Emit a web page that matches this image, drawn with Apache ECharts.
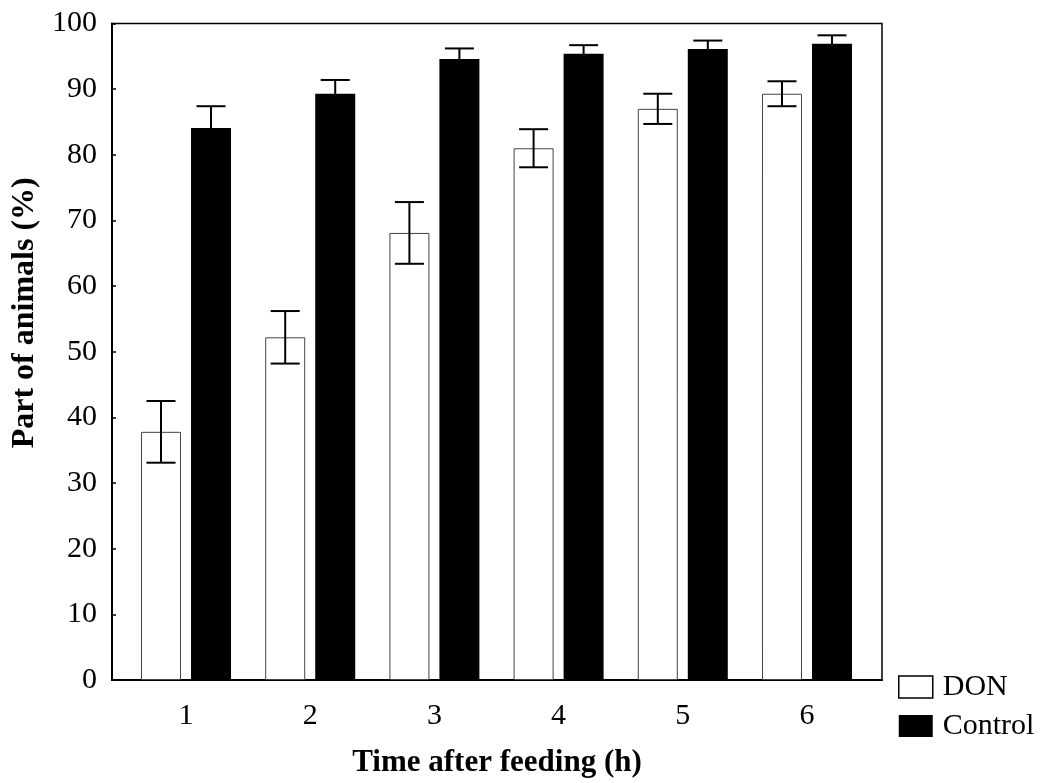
<!DOCTYPE html>
<html>
<head>
    <meta charset="UTF-8">
    <title>Part of animals</title>
    <script src="https://cdn.jsdelivr.net/npm/echarts@6/dist/echarts.min.js"></script>
</head>
<body style="margin:0;background:#fff">
<div id="main" style="width:1042px;height:783px;"></div>
<script>
    // hours after feeding
    var hours = [1, 2, 3, 4, 5, 6];
    // DON group: mean and error (+/-)
    var donMean = [37.8, 52.2, 68.1, 81.0, 87.0, 89.3];
    var donErr = [4.7, 4.0, 4.7, 2.9, 2.3, 1.9];
    // control group
    var ctrlMean = [84.1, 89.3, 94.6, 95.4, 96.1, 96.9];
    var ctrlErr = [3.3, 2.1, 1.6, 1.3, 1.3, 1.3];
    var yTicks = [0, 10, 20, 30, 40, 50, 60, 70, 80, 90, 100];

    var font = '"Liberation Serif", "Times New Roman", serif';

    function pairs(vals) {
        return hours.map(function (h, i) { return [h, vals[i]]; });
    }
    function errData(vals, errs) {
        return hours.map(function (h, i) { return [h, vals[i] - errs[i], vals[i] + errs[i]]; });
    }
    // error bar drawn with a pixel shift so it sits on its own bar
    function errRender(shift) {
        return function (params, api) {
            var lo = api.coord([api.value(0), api.value(1)]);
            var hi = api.coord([api.value(0), api.value(2)]);
            var x = lo[0] + shift, cap = 14.5;
            var st = { stroke: '#000', lineWidth: 2 };
            return {
                type: 'group',
                children: [
                    { type: 'line', shape: { x1: x, y1: lo[1], x2: x, y2: hi[1] }, style: st },
                    { type: 'line', shape: { x1: x - cap, y1: hi[1], x2: x + cap, y2: hi[1] }, style: st },
                    { type: 'line', shape: { x1: x - cap, y1: lo[1], x2: x + cap, y2: lo[1] }, style: st }
                ]
            };
        };
    }

    var myChart = echarts.init(document.getElementById('main'));
    var option = {
        backgroundColor: '#fff',
        animation: false,
        textStyle: { fontFamily: font },
        grid: {
            left: 112, right: 160, top: 23.5, bottom: 102,
            show: true, borderColor: '#000', borderWidth: 1.5
        },
        legend: {
            orient: 'vertical',
            left: 898, top: 672,
            padding: 0,
            itemWidth: 34, itemHeight: 22, itemGap: 9,
            icon: 'rect',
            textStyle: { fontFamily: font, fontSize: 30, color: '#000', padding: [0, 0, 0, 5] },
            data: [
                { name: 'DON', itemStyle: { color: '#fff', borderColor: '#000', borderWidth: 1.5 } },
                { name: 'Control', itemStyle: { color: '#000', borderWidth: 0 } }
            ]
        },
        xAxis: {
            type: 'value',
            min: 0.404, max: 6.604,
            name: 'Time after feeding (h)',
            nameLocation: 'middle',
            nameGap: 67,
            nameTextStyle: { fontFamily: font, fontSize: 31, fontWeight: 'bold', color: '#000' },
            axisLine: { show: true, onZero: false, lineStyle: { color: '#000', width: 2 } },
            axisTick: { show: false },
            splitLine: { show: false },
            axisLabel: {
                customValues: hours,
                margin: 21,
                fontFamily: font, fontSize: 30, color: '#000'
            }
        },
        yAxis: {
            type: 'value',
            min: 0, max: 100, interval: 10,
            name: 'Part of animals (%)',
            nameLocation: 'middle',
            nameGap: 70,
            nameTextStyle: { fontFamily: font, fontSize: 32, fontWeight: 'bold', color: '#000', padding: [0, 0, 0, 78] },
            axisLine: { show: true, lineStyle: { color: '#000', width: 2 } },
            axisTick: { show: true, inside: true, length: 4, lineStyle: { color: '#000', width: 1.5 } },
            splitLine: { show: false },
            axisLabel: {
                margin: 15,
                fontFamily: font, fontSize: 30, color: '#000',
                formatter: function (v) { return yTicks.indexOf(v) >= 0 ? String(v) : ''; }
            }
        },
        series: [
            {
                name: 'DON', type: 'bar',
                barWidth: 40, barGap: '25%',
                itemStyle: { color: '#fff', borderColor: '#444', borderWidth: 1 },
                data: pairs(donMean)
            },
            {
                name: 'Control', type: 'bar',
                barWidth: 40, barGap: '25%',
                itemStyle: { color: '#000' },
                data: pairs(ctrlMean)
            },
            {
                type: 'custom', z: 5,
                renderItem: errRender(-25),
                data: errData(donMean, donErr)
            },
            {
                type: 'custom', z: 5,
                renderItem: errRender(25),
                data: errData(ctrlMean, ctrlErr)
            }
        ]
    };

    myChart.setOption(option);
</script>
</body>
</html>
